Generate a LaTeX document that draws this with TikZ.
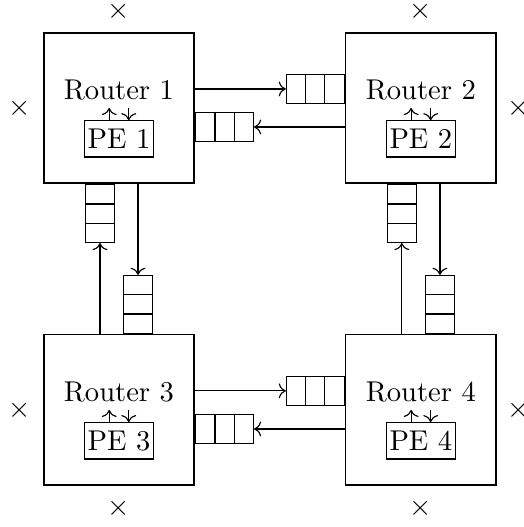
\documentclass[tikz,border=0pt]{standalone}
\usetikzlibrary{positioning, arrows.meta, calc}

\begin{document}
\begin{tikzpicture}[
    rt/.style={draw, semithick, minimum size=1.85cm},
    pe/.style={draw, inner sep=1pt, minimum width=0.84cm, minimum height=0.445cm},
    port/.style={inner sep=0pt},
    hq/.style={draw, inner sep=0pt, minimum width=0.71cm, minimum height=0.355cm,
               path picture={
                 \draw ($(path picture bounding box.south west)!1/3!(path picture bounding box.south east)$) -- ++(0,1);
                 \draw ($(path picture bounding box.south west)!2/3!(path picture bounding box.south east)$) -- ++(0,1);}},
    vq/.style={draw, inner sep=0pt, minimum width=0.355cm, minimum height=0.71cm,
               path picture={
                 \draw ($(path picture bounding box.south west)!1/3!(path picture bounding box.north west)$) -- ++(1,0);
                 \draw ($(path picture bounding box.south west)!2/3!(path picture bounding box.north west)$) -- ++(1,0);}}]
    \useasboundingbox (-1.462,1.327) rectangle (4.977,-5.149);

    % routers
    \node[rt] (r1) at (0,0)        {};
    \node[rt] (r2) at (3.71,0)     {};
    \node[rt] (r3) at (0,-3.71)    {};
    \node[rt] (r4) at (3.71,-3.71) {};
    \node[anchor=base] (t1) at ([yshift=1mm]r1.center) {Router 1};
    \node[anchor=base] (t2) at ([yshift=1mm]r2.center) {Router 2};
    \node[anchor=base] (t3) at ([yshift=1mm]r3.center) {Router 3};
    \node[anchor=base] (t4) at ([yshift=1mm]r4.center) {Router 4};

    % processing elements
    \node[pe] (p1) at ([yshift=-3.8mm]r1.center) {PE 1};
    \node[pe] (p2) at ([yshift=-3.8mm]r2.center) {PE 2};
    \node[pe] (p3) at ([yshift=-3.8mm]r3.center) {PE 3};
    \node[pe] (p4) at ([yshift=-3.8mm]r4.center) {PE 4};
    \draw[->] ([xshift=-1.2mm]p1.north) -- ([xshift=-1.2mm]r1.center);
    \draw[->] ([xshift=1.2mm]r1.center) -- ([xshift=1.2mm]p1.north);
    \draw[->] ([xshift=-1.2mm]p2.north) -- ([xshift=-1.2mm]r2.center);
    \draw[->] ([xshift=1.2mm]r2.center) -- ([xshift=1.2mm]p2.north);
    \draw[->] ([xshift=-1.2mm]p3.north) -- ([xshift=-1.2mm]r3.center);
    \draw[->] ([xshift=1.2mm]r3.center) -- ([xshift=1.2mm]p3.north);
    \draw[->] ([xshift=-1.2mm]p4.north) -- ([xshift=-1.2mm]r4.center);
    \draw[->] ([xshift=1.2mm]r4.center) -- ([xshift=1.2mm]p4.north);

    % input buffers, horizontal links
    \node[hq, anchor=east] (q12) at ([yshift=2.34mm]r2.west)  {};
    \node[hq, anchor=west] (q21) at ([yshift=-2.34mm]r1.east) {};
    \node[hq, anchor=east] (q34) at ([yshift=2.34mm]r4.west)  {};
    \node[hq, anchor=west] (q43) at ([yshift=-2.34mm]r3.east) {};
    \draw[->] (r1.east |- q12) -- (q12);
    \draw[->] (r2.west |- q21) -- (q21);
    \draw[->] (r3.east |- q34) -- (q34);
    \draw[->] (r4.west |- q43) -- (q43);

    % input buffers, vertical links
    \node[vq, anchor=north] (q31) at ([xshift=-2.34mm]r1.south) {};
    \node[vq, anchor=south] (q13) at ([xshift=2.34mm]r3.north)  {};
    \node[vq, anchor=north] (q42) at ([xshift=-2.34mm]r2.south) {};
    \node[vq, anchor=south] (q24) at ([xshift=2.34mm]r4.north)  {};
    \draw[->] (r3.north -| q31) -- (q31);
    \draw[->] (r1.south -| q13) -- (q13);
    \draw[->] (r4.north -| q42) -- (q42);
    \draw[->] (r2.south -| q24) -- (q24);

    % open ports
    \node[port] (x1n) at ([yshift=2.5mm]r1.north)  {$\times$};
    \node[port] (x1w) at ([xshift=-2.8mm]r1.west)  {$\times$};
    \node[port] (x2n) at ([yshift=2.5mm]r2.north)  {$\times$};
    \node[port] (x2e) at ([xshift=2.6mm]r2.east)   {$\times$};
    \node[port] (x3w) at ([xshift=-2.8mm]r3.west)  {$\times$};
    \node[port] (x3s) at ([yshift=-2.7mm]r3.south) {$\times$};
    \node[port] (x4e) at ([xshift=2.6mm]r4.east)   {$\times$};
    \node[port] (x4s) at ([yshift=-2.7mm]r4.south) {$\times$};
  \end{tikzpicture}
\end{document}
